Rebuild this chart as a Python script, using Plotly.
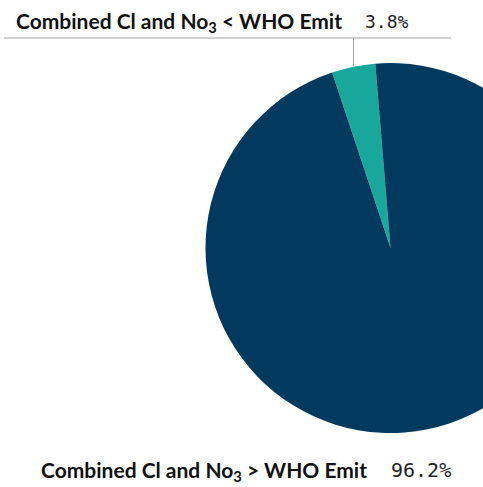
import math
import plotly.graph_objects as go

# ---- data ----
categories = ["Combined Cl and No<sub>3</sub> &lt; WHO Emit",
              "Combined Cl and No<sub>3</sub> &gt; WHO Emit"]
values = [3.8, 96.2]
colors = ["#17A89B", "#023A5F"]

# ---- geometry (pixels) ----
W, H = 620, 487
cx, cy, r = 390.5, 248.0, 185.0
rotation = -18.4

def px(x):
    return x / W

def py(y):
    return 1 - y / H

fig = go.Figure(go.Pie(
    labels=categories,
    values=values,
    marker=dict(colors=colors, line=dict(width=0)),
    sort=False,
    direction="clockwise",
    rotation=rotation,
    textinfo="none",
    hoverinfo="label+percent",
    showlegend=False,
    domain=dict(x=[px(cx - r), px(cx + r)], y=[py(cy + r), py(cy - r)]),
))

total = sum(values)
pcts = [f"{v / total * 100:.1f}%" for v in values]

# leader line to the middle of the small slice
mid = math.radians(rotation + values[0] / total * 360 / 2)
lx = cx + r * math.sin(mid)
ly = cy - r * math.cos(mid)

line_col = "#A0A0A0"
shapes = [
    dict(type="line", xref="paper", yref="paper",
         x0=px(4), x1=px(451), y0=py(38), y1=py(38),
         line=dict(color=line_col, width=1)),
    dict(type="line", xref="paper", yref="paper",
         x0=px(lx), x1=px(lx), y0=py(38), y1=py(ly - 1),
         line=dict(color=line_col, width=1)),
]

lab_font = dict(family="Lato", size=21, color="#111111")
pct_font_top = dict(family="DejaVu Sans Mono", size=18, color="#222222")
pct_font_bot = dict(family="DejaVu Sans Mono", size=20, color="#222222")

annotations = [
    dict(text="<b>" + categories[0] + "</b>", x=px(14), y=py(22), xref="paper", yref="paper",
         xanchor="left", yanchor="middle", showarrow=False, font=lab_font),
    dict(text=pcts[0], x=px(363), y=py(21), xref="paper", yref="paper",
         xanchor="left", yanchor="middle", showarrow=False, font=pct_font_top),
    dict(text="<b>" + categories[1] + "</b>", x=px(39), y=py(471), xref="paper", yref="paper",
         xanchor="left", yanchor="middle", showarrow=False, font=lab_font),
    dict(text=pcts[1], x=px(389), y=py(470), xref="paper", yref="paper",
         xanchor="left", yanchor="middle", showarrow=False, font=pct_font_bot),
]

fig.update_layout(
    width=W, height=H, autosize=False,
    margin=dict(l=0, r=0, t=0, b=0),
    paper_bgcolor="white", plot_bgcolor="white",
    shapes=shapes, annotations=annotations,
)

fig.write_html(
    "out.html",
    post_script="document.documentElement.style.overflow='hidden';"
                "document.body.style.overflow='hidden';document.body.style.margin='0';",
)
